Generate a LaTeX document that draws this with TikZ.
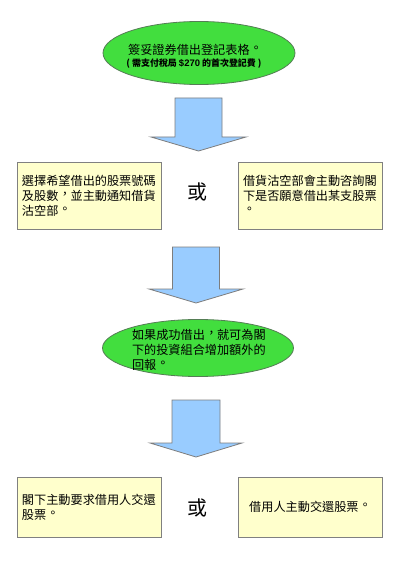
\documentclass[tikz,border=0pt]{standalone}
\usepackage{fontspec}
\setmainfont{Liberation Sans}
\newfontfamily\cjk{Noto Sans CJK TC}
\usetikzlibrary{shapes.geometric}
\newcommand\zcomma{\makebox[1em][l]{\hspace{0.04em}\raisebox{0.1em}{\makebox[0.9em][l]{，}}}}
\newcommand\zperiod{\makebox[1em][l]{\hspace{0.04em}\raisebox{0.15em}{\makebox[0.9em][l]{。}}}}
\definecolor{ellgreen}{RGB}{66,222,62}
\definecolor{ellline}{RGB}{85,125,85}
\definecolor{arrowblue}{RGB}{153,204,255}
\definecolor{arrowline}{RGB}{125,125,125}
\definecolor{boxyellow}{RGB}{255,255,204}
\definecolor{boxline}{RGB}{128,128,128}
\tikzset{
  ellnode/.style={ellipse, draw=ellline, fill=ellgreen, line width=0.8bp, inner sep=0pt},
  boxnode/.style={rectangle, draw=boxline, fill=boxyellow, line width=0.8bp, inner xsep=5bp, inner ysep=0pt,
     minimum width=144bp, text width=134bp, align=left,
     font={\cjk\fontsize{12.2}{15}\selectfont}},
  txt/.style={inner sep=0pt, font={\cjk\fontsize{12.2}{15}\selectfont}},
  smalltxt/.style={inner sep=0pt, font={\cjk\bfseries\fontsize{9}{11}\selectfont}},
  ortxt/.style={inner sep=0pt, font={\cjk\fontsize{20}{24}\selectfont}},
  arrowstyle/.style={draw=arrowline, fill=arrowblue, line width=0.8bp, line join=miter}
}
\begin{document}
\begin{tikzpicture}[x=1bp,y=-1bp]
\useasboundingbox (0,0) rectangle (400,566);
\fill[white] (0,0) rectangle (400,566);

% top ellipse
\node[ellnode, minimum width=192bp, minimum height=63bp] (e1) at (199,53) {};
\node[txt] (e1a) at (195,50) {簽妥證券借出登記表格\zperiod};
\node[smalltxt] (e1b) at (194,63.5) {( 需支付稅局 {\rmfamily\bfseries\fontsize{9.5}{11}\selectfont\$270} 的首次登記費 )};

% arrow 1
\coordinate (a1) at (198.5,98);
\draw[arrowstyle, shift={(a1)}] (-23.5,0) -- (23.5,0) -- (23.5,39) -- (47.5,39) -- (0,53) -- (-47.5,39) -- (-23.5,39) -- cycle;

% row 1
\node[boxnode, minimum height=67bp] (b1) at (89,195.5) {選擇希望借出的股票號碼\\及股數\zcomma 並主動通知借貨\\沽空部\zperiod};
\node[boxnode, minimum height=67bp] (b2) at (310,195.5) {借貨沽空部會主動咨詢閣\\下是否願意借出某支股票\\\zperiod};
\node[ortxt] (or1) at (197,192) {或};

% arrow 2
\coordinate (a2) at (196,247);
\draw[arrowstyle, shift={(a2)}] (-23.5,0) -- (23.5,0) -- (23.5,42) -- (47,42) -- (0,56) -- (-47,42) -- (-23.5,42) -- cycle;

% middle ellipse
\node[ellnode, minimum width=191bp, minimum height=57bp] (e2) at (198,348) {};
\node[txt, text width=134bp, align=left] (e2t) at (199,349.5) {如果成功借出\zcomma 就可為閣\\下的投資組合增加額外的\\回報\zperiod};

% arrow 3
\coordinate (a3) at (196,400);
\draw[arrowstyle, shift={(a3)}] (-24,0) -- (24,0) -- (24,43) -- (46,43) -- (0,57) -- (-46,43) -- (-24,43) -- cycle;

% row 3
\node[boxnode, minimum height=60bp] (b3) at (89,507) {閣下主動要求借用人交還\\股票\zperiod};
\node[boxnode, minimum height=60bp, align=center] (b4) at (310,507) {借用人主動交還股票\zperiod};
\node[ortxt] (or2) at (197,508) {或};
\end{tikzpicture}
\end{document}
